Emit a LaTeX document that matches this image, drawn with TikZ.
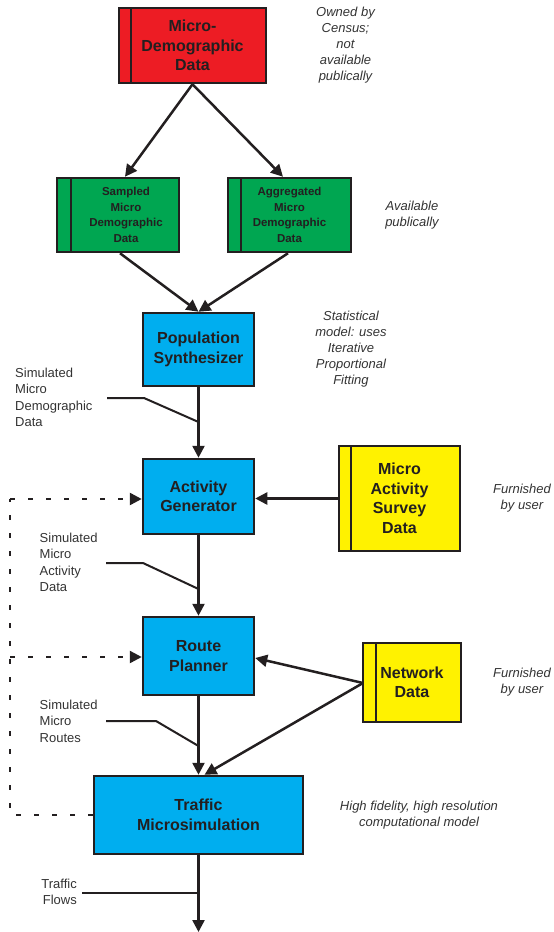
\documentclass[tikz,border=0pt]{standalone}
\usepackage{fontspec}
\setmainfont{Liberation Sans}
\usetikzlibrary{arrows.meta}
\definecolor{bred}{HTML}{ED1C24}
\definecolor{bgreen}{HTML}{00A651}
\definecolor{bcyan}{HTML}{00AEEF}
\definecolor{byellow}{HTML}{FFF200}
\definecolor{ink}{HTML}{231F20}
\definecolor{note}{HTML}{333333}
\tikzset{
  box/.style={draw=ink, line width=2.5pt, inner sep=0pt, align=center, text=ink,
    font=\bfseries\fontsize{16}{19.5}\selectfont},
  gbox/.style={box, fill=bgreen, font=\bfseries\fontsize{11.5}{15.5}\selectfont},
  btext/.style={inner sep=0pt, align=center, text=ink, font=\bfseries\fontsize{11.5}{15.5}\selectfont},
  tip/.tip={Triangle[length=12pt,width=12pt]},
  conn/.style={draw=ink, line width=2.5pt, -tip},
  plain/.style={draw=ink, line width=2.5pt},
  lbl/.style={draw=ink, line width=2pt},
  dots/.style={draw=ink, line width=2.5pt, dash pattern=on 5pt off 13pt},
  notetext/.style={inner sep=0pt, align=center, text=note, font=\itshape\fontsize{13}{16}\selectfont},
  sidetext/.style={inner sep=0pt, align=left, text=note, font=\fontsize{13}{16.5}\selectfont}
}
\begin{document}
\begin{tikzpicture}[x=1pt,y=-1pt]
\useasboundingbox (0,0) rectangle (554,932);
% boxes
\node[box, fill=bred, minimum width=147pt, minimum height=75pt] (red) at (192.5,45.5) {Micro-\\Demographic\\Data};
\draw[plain] (131,8) -- (131,83);
\node[gbox, minimum width=122pt, minimum height=74pt] (smp) at (118,215) {};
\node[btext] (smpt) at (126,215) {Sampled\\Micro\\Demographic\\Data};
\draw[plain] (71,178) -- (71,252);
\node[gbox, minimum width=123pt, minimum height=74pt] (agg) at (289.5,215) {Aggregated\\Micro\\Demographic\\Data};
\draw[plain] (241,178) -- (241,252);
\node[box, fill=bcyan, minimum width=111pt, minimum height=73pt] (pop) at (198.5,349.5) {Population\\Synthesizer};
\node[box, fill=bcyan, minimum width=111pt, minimum height=75pt] (act) at (198.5,496.5) {Activity\\Generator};
\node[box, fill=byellow, minimum width=121pt, minimum height=105pt] (sur) at (399.5,498.5) {Micro\\Activity\\Survey\\Data};
\draw[plain] (351,446) -- (351,551);
\node[box, fill=bcyan, minimum width=111pt, minimum height=78pt] (rte) at (198.5,656) {Route\\Planner};
\node[box, fill=byellow, minimum width=98pt, minimum height=79pt] (net) at (412,682.5) {Network\\Data};
\draw[plain] (376,643) -- (376,722);
\node[box, fill=bcyan, minimum width=209pt, minimum height=78pt] (trf) at (198.5,815) {Traffic\\Microsimulation};
% connectors
\draw[conn] (red.south) -- ([xshift=7pt]smp.north);
\draw[conn] (red.south) -- ([xshift=-6.5pt]agg.north);
\draw[conn] ([xshift=2pt]smp.south) -- (pop.north);
\draw[conn] ([xshift=-1.5pt]agg.south) -- (pop.north);
\draw[conn] (pop.south) -- (act.north);
\draw[conn] (sur.west) -- (act.east |- sur.west);
\draw[conn] (act.south) -- (rte.north);
\coordinate (netin) at (363,683);
\draw[conn] (netin) -- ([yshift=-2pt]rte.east);
\draw[conn] (netin) -- ([xshift=6pt]trf.north);
\draw[conn] (rte.south) -- (trf.north);
\coordinate (outend) at (198.5,932);
\draw[conn] (trf.south) -- (outend);
% feedback dotted
\coordinate (fbA) at (10,815);
\coordinate (fbB) at (10,499);
\coordinate (fbC) at (10,657);
\draw[dots] (trf.west |- fbA) -- (fbA) -- (fbB);
\draw[dots, -tip] (fbB) -- (act.west |- fbB);
\draw[dots, -tip] (fbC) -- (rte.west |- fbC);
% side labels
\node[sidetext, anchor=west] (l1) at (15,397.5) {Simulated\\Micro\\Demographic\\Data};
\coordinate (l1a) at (107,398); \coordinate (l1b) at (144,398); \coordinate (l1c) at (198.5,422);
\draw[lbl] (l1a) -- (l1b) -- (l1c);
\node[sidetext, anchor=west] (l2) at (39.5,562.5) {Simulated\\Micro\\Activity\\Data};
\coordinate (l2a) at (106,563); \coordinate (l2b) at (143,563); \coordinate (l2c) at (198.5,589);
\draw[lbl] (l2a) -- (l2b) -- (l2c);
\node[sidetext, anchor=west] (l3) at (39.5,721) {Simulated\\Micro\\Routes};
\coordinate (l3a) at (106,721); \coordinate (l3b) at (156,721); \coordinate (l3c) at (198.5,746);
\draw[lbl] (l3a) -- (l3b) -- (l3c);
\node[sidetext, anchor=east, align=right] (l4) at (77,892) {Traffic\\Flows};
\coordinate (l4a) at (82,893); \coordinate (l4b) at (198.5,893);
\draw[lbl] (l4a) -- (l4b);
% notes
\node[notetext] (n1) at (345.5,45) {Owned by\\Census;\\not\\available\\publically};
\node[notetext] (n2) at (412,215) {Available\\publically};
\node[notetext] (n3) at (351,349) {Statistical\\model: uses\\Iterative\\Proportional\\Fitting};
\node[notetext] (n4) at (522,498) {Furnished\\by user};
\node[notetext] (n5) at (522,682) {Furnished\\by user};
\node[notetext] (n6) at (419,815) {High fidelity, high resolution\\computational model};
\end{tikzpicture}
\end{document}
